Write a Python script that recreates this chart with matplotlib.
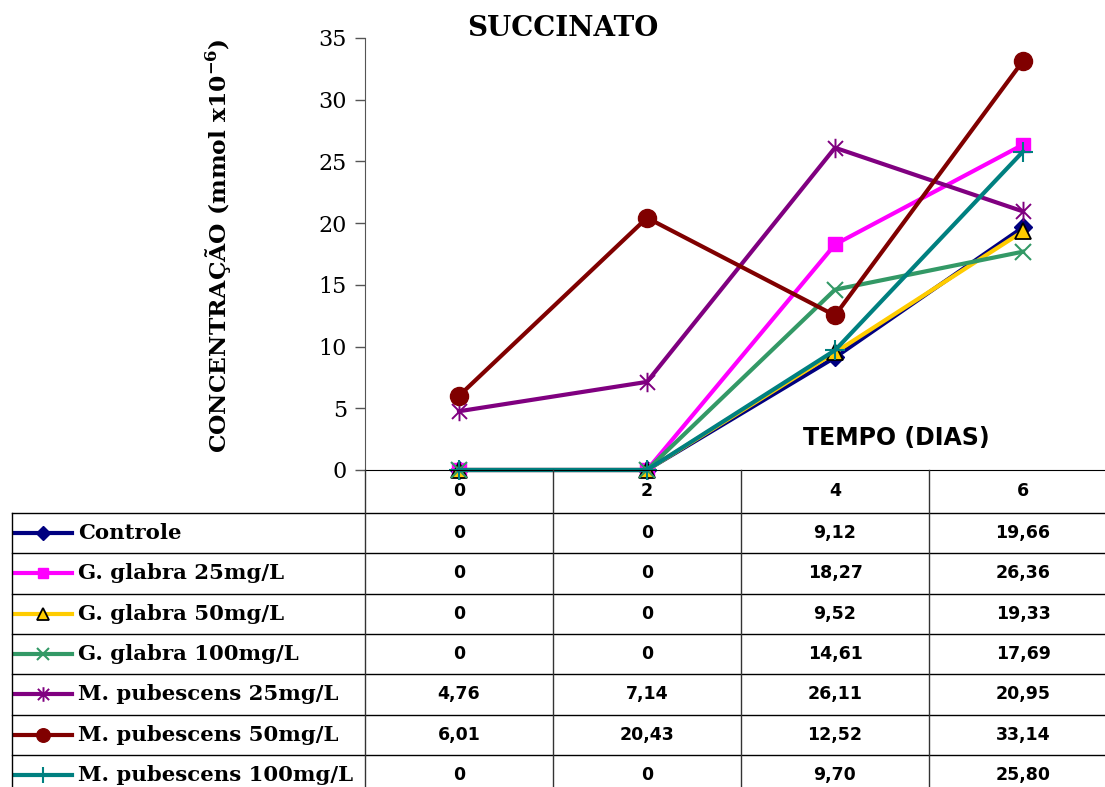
import numpy as np
import matplotlib
matplotlib.use("Agg")
import matplotlib.pyplot as plt
from matplotlib.lines import Line2D
from matplotlib.path import Path
from matplotlib.transforms import blended_transform_factory

# data
days = ["0", "2", "4", "6"]
series_names = ["Controle", "G. glabra 25mg/L", "G. glabra 50mg/L", "G. glabra 100mg/L",
                "M. pubescens 25mg/L", "M. pubescens 50mg/L", "M. pubescens 100mg/L"]
controle = [0, 0, 9.12, 19.66]
glabra_25 = [0, 0, 18.27, 26.36]
glabra_50 = [0, 0, 9.52, 19.33]
glabra_100 = [0, 0, 14.61, 17.69]
pubescens_25 = [4.76, 7.14, 26.11, 20.95]
pubescens_50 = [6.01, 20.43, 12.52, 33.14]
pubescens_100 = [0, 0, 9.70, 25.80]
all_values = [controle, glabra_25, glabra_50, glabra_100,
              pubescens_25, pubescens_50, pubescens_100]

# asterisk marker like excel (x + vertical bar)
star = Path([(-1, -1), (1, 1), (-1, 1), (1, -1), (0, -1.3), (0, 1.3)],
            [Path.MOVETO, Path.LINETO, Path.MOVETO, Path.LINETO, Path.MOVETO, Path.LINETO])

styles = [
    dict(color="#000080", marker="D", ms=9),
    dict(color="#FF00FF", marker="s", ms=10.5),
    dict(color="#FFCC00", marker="^", ms=11, mfc="#FFCC00", mec="black", mew=1.3),
    dict(color="#339966", marker="x", ms=12, mew=1.5),
    dict(color="#800080", marker=star, ms=14, mew=1.4),
    dict(color="#800000", marker="o", ms=13),
    dict(color="#008080", marker="+", ms=15, mew=1.5),
]

W, H = 1105, 787
def fx(px):
    return px / W
def fy(py):
    return 1 - py / H

plt.rcParams["mathtext.fontset"] = "dejavuserif"
fig = plt.figure(figsize=(W / 100, H / 100), dpi=100)
ax = fig.add_axes([fx(365), fy(470), fx(1117) - fx(365), fy(38) - fy(470)])

x = np.arange(len(days))
for vals, st in zip(all_values, styles):
    ax.plot(x, vals, lw=3, clip_on=False, **st)

ax.set_xlim(-0.5, 3.5)
ax.set_ylim(0, 35)
ax.set_yticks(range(0, 36, 5))
ax.set_xticks([])
ax.tick_params(axis="y", direction="out", length=7, width=1, pad=6, color="#555555")
for lab in ax.get_yticklabels():
    lab.set_fontfamily("DejaVu Serif")
    lab.set_fontsize(16)
ax.spines["top"].set_visible(False)
ax.spines["right"].set_visible(False)
ax.spines["left"].set_color("#555555")
ax.spines["bottom"].set_color("black")
ax.patch.set_alpha(0)

fig.text(fx(563), fy(28), "SUCCINATO", ha="center", va="center",
         family="DejaVu Serif", weight="bold", fontsize=20)
fig.text(fx(218), fy(246), r"CONCENTRAÇÃO (mmol x10$^{\mathbf{-6}}$)", rotation=90,
         ha="center", va="center", family="DejaVu Serif", weight="bold", fontsize=16.8)
fig.text(fx(896), fy(438), "TEMPO (DIAS)", ha="center", va="center",
         family="DejaVu Sans", weight="bold", fontsize=17)

# data table under the axis
tr = blended_transform_factory(ax.transData, fig.transFigure)
row_top = 513
row_h = 40.3
n_rows = len(series_names)

for i, d in enumerate(days):
    fig.text(i, fy(491), d, transform=tr, ha="center", va="center",
             family="DejaVu Sans", weight="bold", fontsize=12.5)

def fmt(v):
    if v == 0:
        return "0"
    return f"{v:.2f}".replace(".", ",")

for r, (name, vals, st) in enumerate(zip(series_names, all_values, styles)):
    yc = row_top + row_h * (r + 0.5)
    fig.text(fx(78), fy(yc), name, ha="left", va="center",
             family="DejaVu Serif", weight="bold", fontsize=15.3)
    key = dict(st)
    key["ms"] = key["ms"] * 0.75
    fig.add_artist(Line2D([fx(15), fx(72)], [fy(yc), fy(yc)], lw=3,
                          transform=fig.transFigure, **{k: v for k, v in key.items() if k != "marker"},
                          marker="None"))
    fig.add_artist(Line2D([fx(43)], [fy(yc)], lw=0, transform=fig.transFigure, **key))
    for i, v in enumerate(vals):
        fig.text(i, fy(yc), fmt(v), transform=tr, ha="center", va="center",
                 family="DejaVu Sans", weight="bold", fontsize=12.5)

# grid lines of the table
for r in range(n_rows + 1):
    yl = row_top + row_h * r
    fig.add_artist(Line2D([fx(12), 1], [fy(yl), fy(yl)], lw=1, color="black",
                          transform=fig.transFigure))
fig.add_artist(Line2D([fx(12), fx(12)], [fy(row_top), 0], lw=1, color="black",
                      transform=fig.transFigure))
for b in [-0.5, 0.5, 1.5, 2.5]:
    fig.add_artist(Line2D([b, b], [fy(470), 0], lw=1, color="#333333", transform=tr))

fig.savefig("out.png", dpi=100)
